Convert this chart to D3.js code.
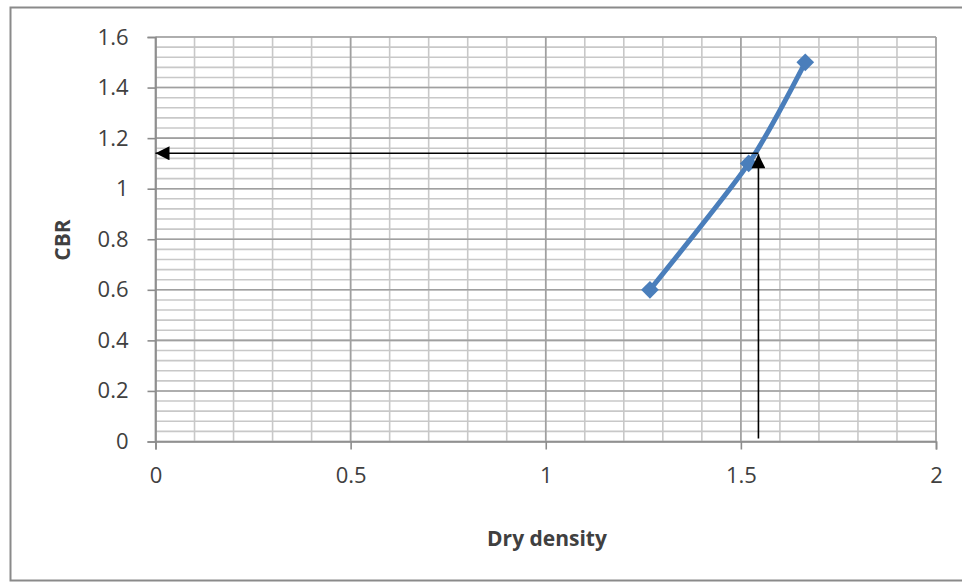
<!DOCTYPE html>
<html>
<head>
<meta charset="utf-8">
<script src="https://cdn.jsdelivr.net/npm/d3@7"></script>
<style>
  body { margin: 0; background: #fff; }
  svg text { font-family: "Open Sans", sans-serif; fill: #404040; }
</style>
</head>
<body>
<div id="chart"></div>
<script>
// data
var density = [1.267, 1.52, 1.665];
var cbr = [0.6, 1.1, 1.5];
var xTicks = [0, 0.5, 1, 1.5, 2];
var yTicks = [0, 0.2, 0.4, 0.6, 0.8, 1, 1.2, 1.4, 1.6];
// reading taken off the curve (arrows)
var readDensity = [1.545];
var readCbr = [1.14];

var W = 962, H = 583;
var plotL = 155.5, plotR = 936, plotT = 37, plotB = 441.5;

var svg = d3.select("#chart").append("svg")
  .attr("width", W)
  .attr("height", H);

// chart area border
svg.append("rect")
  .attr("x", 10.5).attr("y", 7.5)
  .attr("width", 970).attr("height", 573)
  .attr("fill", "#fff")
  .attr("stroke", "#8a8a8a")
  .attr("stroke-width", 2);

var x = d3.scaleLinear().domain([0, 2]).range([plotL, plotR]);
var y = d3.scaleLinear().domain([0, 1.6]).range([plotB, plotT]);

var grid = svg.append("g");
// minor grid
d3.range(0, 2.0001, 0.1).forEach(function (v) {
  grid.append("line")
    .attr("x1", x(v)).attr("x2", x(v))
    .attr("y1", plotT).attr("y2", plotB)
    .attr("stroke", "#c8c8c8").attr("stroke-width", 1.6);
});
d3.range(0, 1.6001, 0.04).forEach(function (v) {
  grid.append("line")
    .attr("x1", plotL).attr("x2", plotR)
    .attr("y1", y(v)).attr("y2", y(v))
    .attr("stroke", "#c8c8c8").attr("stroke-width", 1.6);
});
// major grid
xTicks.forEach(function (v) {
  grid.append("line")
    .attr("x1", x(v)).attr("x2", x(v))
    .attr("y1", plotT).attr("y2", plotB)
    .attr("stroke", "#a0a0a0").attr("stroke-width", 1.6);
});
yTicks.forEach(function (v) {
  grid.append("line")
    .attr("x1", plotL).attr("x2", plotR)
    .attr("y1", y(v)).attr("y2", y(v))
    .attr("stroke", "#a0a0a0").attr("stroke-width", 1.6);
});

// axes
var xAxis = svg.append("g")
  .attr("transform", "translate(0," + plotB + ")")
  .call(d3.axisBottom(x).tickValues(xTicks).tickSize(8).tickPadding(18)
    .tickFormat(function (d) { return d3.format("")(d); }));
var yAxis = svg.append("g")
  .attr("transform", "translate(" + plotL + ",0)")
  .call(d3.axisLeft(y).tickValues(yTicks).tickSize(8).tickPadding(19)
    .tickFormat(function (d) { return d3.format("")(+d.toFixed(1)); }));

[xAxis, yAxis].forEach(function (a) {
  a.select(".domain").attr("stroke", "#8c8c8c").attr("stroke-width", 1.6);
  a.selectAll(".tick line").attr("stroke", "#8c8c8c").attr("stroke-width", 1.6);
  a.selectAll(".tick text")
    .attr("font-size", 22)
    .attr("fill", "#404040")
    .style("font-family", "'Open Sans', sans-serif");
});

// axis titles
svg.append("text")
  .attr("transform", "translate(70,240) rotate(-90)")
  .attr("text-anchor", "middle")
  .attr("font-size", 21)
  .attr("font-weight", "bold")
  .attr("fill", "#1a1a1a")
  .text("CBR");
svg.append("text")
  .attr("x", 547).attr("y", 546)
  .attr("text-anchor", "middle")
  .attr("font-size", 21)
  .attr("font-weight", "bold")
  .attr("fill", "#1a1a1a")
  .text("Dry density");

// series
var pts = density.map(function (d, i) { return [d, cbr[i]]; });
var line = d3.line()
  .x(function (d) { return x(d[0]); })
  .y(function (d) { return y(d[1]); })
  .curve(d3.curveCardinal.tension(0.3));

svg.append("path")
  .datum(pts)
  .attr("d", line)
  .attr("fill", "none")
  .attr("stroke", "#4a7ebb")
  .attr("stroke-width", 5)
  .attr("stroke-linecap", "round");

svg.selectAll(".mark")
  .data(pts)
  .enter().append("path")
  .attr("class", "mark")
  .attr("transform", function (d) { return "translate(" + x(d[0]) + "," + y(d[1]) + ")"; })
  .attr("d", d3.symbol().type(d3.symbolDiamond2).size(200))
  .attr("fill", "#4a7ebb");

// reading arrows
var defs = svg.append("defs");
defs.append("marker")
  .attr("id", "head")
  .attr("viewBox", "0 0 10 10")
  .attr("refX", 10).attr("refY", 5)
  .attr("markerWidth", 16).attr("markerHeight", 14)
  .attr("markerUnits", "userSpaceOnUse")
  .attr("orient", "auto")
  .append("path")
  .attr("d", "M0,0 L10,5 L0,10 Z")
  .attr("fill", "#000");

svg.append("line")
  .attr("x1", x(readDensity[0])).attr("x2", x(readDensity[0]))
  .attr("y1", y(0.012)).attr("y2", y(readCbr[0]) + 1)
  .attr("stroke", "#000").attr("stroke-width", 1.6)
  .attr("marker-end", "url(#head)");
svg.append("line")
  .attr("x1", x(readDensity[0])).attr("x2", x(0))
  .attr("y1", y(readCbr[0])).attr("y2", y(readCbr[0]))
  .attr("stroke", "#000").attr("stroke-width", 1.6)
  .attr("marker-end", "url(#head)");
</script>
</body>
</html>
